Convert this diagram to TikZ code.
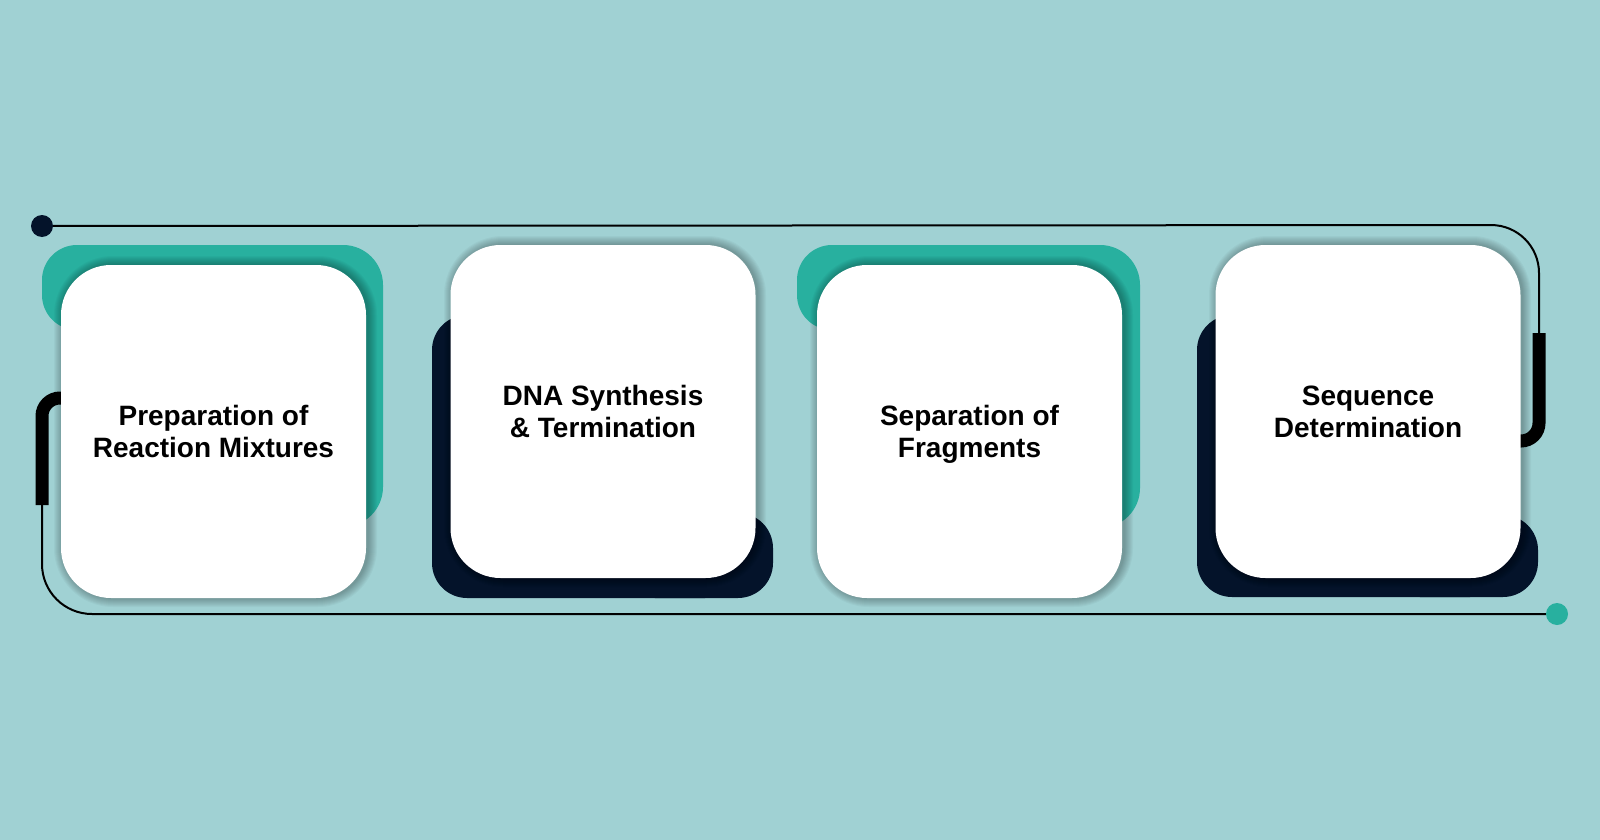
\documentclass[tikz,border=0pt]{standalone}
\usepackage{fontspec}
\setmainfont{Liberation Sans}
\definecolor{bgc}{HTML}{A0D1D3}
\definecolor{tealc}{HTML}{28B09F}
\definecolor{navyc}{HTML}{04132A}
\tikzset{
  card/.style={fill=white, rounded corners=50pt, minimum width=305pt, minimum height=333pt, inner sep=0pt, align=center, font=\bfseries\fontsize{28}{32}\selectfont, text=black},
  thinline/.style={draw=black, line width=2pt},
  thickline/.style={draw=black, line width=13pt},
  dotn/.style={circle, minimum size=22pt, inner sep=0pt},
}
\newcommand\cshadow[4]{%
  \foreach \i in {1,...,9}{%
    \fill[black,opacity=0.03,rounded corners={50+\i}] ({#1-\i+2},{#2-\i}) rectangle ({#3+\i+2},{#4+\i});
  }}
\begin{document}
\begin{tikzpicture}[x=1pt,y=-1pt]
\fill[bgc] (0,0) rectangle (1600,840);
\useasboundingbox (0,0) rectangle (1600,840);

% end dots
\node[dotn, fill=navyc] (d1) at (42,226) {};
\node[dotn, fill=tealc] (d2) at (1557,614) {};

% bend points of the frame line
\coordinate (tr) at (1539,225);
\coordinate (rb1) at (1539,333);
\coordinate (rb2) at (1539,441);
\coordinate (rb3) at (1505,441);
\coordinate (lb1) at (42,505);
\coordinate (lb2) at (42,398);
\coordinate (lb3) at (80,398);
\coordinate (bl) at (42,614);

\draw[thinline, rounded corners=48pt] (d1) -- (tr) -- (rb1);
\draw[thickline, rounded corners=18pt] (rb1) -- (rb2) -- (rb3);
\draw[thinline, rounded corners=50pt] (lb1) -- (bl) -- (d2);
\draw[thickline, rounded corners=18pt] (lb1) -- (lb2) -- (lb3);

% back shapes
\fill[tealc, rounded corners=35pt] (42,245) rectangle (200,330);
\fill[tealc, rounded corners=40pt] (100,245) rectangle (383,527);
\fill[navyc, rounded corners=35pt] (432,315) rectangle (740,598);
\fill[navyc, rounded corners=35pt] (620,513) rectangle (773,598);
\fill[tealc, rounded corners=35pt] (797,245) rectangle (955,330);
\fill[tealc, rounded corners=40pt] (855,245) rectangle (1140,528);
\fill[navyc, rounded corners=35pt] (1197,315) rectangle (1505,597);
\fill[navyc, rounded corners=35pt] (1385,515) rectangle (1538,597);

% shadows
\cshadow{61}{265}{366}{598}
\cshadow{451}{245}{755}{578}
\cshadow{817}{265}{1122}{598}
\cshadow{1216}{245}{1520}{578}

% cards
\node[card] (c1) at (213.5,431.5) {Preparation of\\\smash{Reaction Mixtures}};
\node[card] (c2) at (603,411.5) {DNA Synthesis\\\smash{\& Termination}};
\node[card] (c3) at (969.5,431.5) {Separation of\\\smash{Fragments}};
\node[card] (c4) at (1368,411.5) {Sequence\\\smash{Determination}};
\end{tikzpicture}
\end{document}
